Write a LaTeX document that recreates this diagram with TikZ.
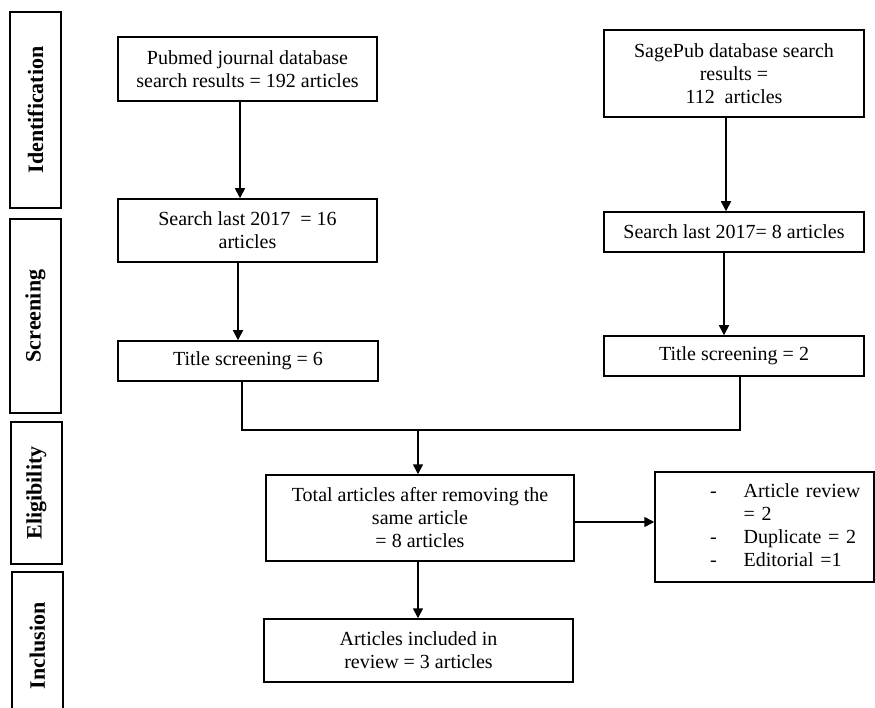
\documentclass[tikz,border=0pt]{standalone}
\usepackage{fontspec}
\setmainfont{Liberation Serif}
\usetikzlibrary{arrows.meta}
\begin{document}
\begin{tikzpicture}[x=1pt,y=-1pt,
  box/.style={draw, line width=1.5pt, inner sep=0pt, align=center, font=\fontsize{20}{23}\selectfont},
  stage/.style={draw, line width=1.6pt, inner sep=0pt, rotate=90, font=\bfseries\fontsize{22}{24}\selectfont},
  conn/.style={line width=1.5pt},
  arr/.style={conn, -{Triangle[length=10pt,width=10pt]}}]
\useasboundingbox (0,0) rectangle (875,708);
\clip (0,0) rectangle (875,708);
% stage labels
\node[stage, minimum width=196pt, minimum height=51pt] (id) at (35.5,110) {Identification};
\node[stage, minimum width=194pt, minimum height=51pt] (sc) at (35.5,316) {Screening};
\node[stage, minimum width=142pt, minimum height=51pt] (el) at (36.5,493) {Eligibility};
\node[stage, minimum width=148pt, minimum height=51pt] (in) at (37.5,646) {Inclusion};
% left column
\node[box, minimum width=259pt, minimum height=64pt] (pub) at (247.5,69) {Pubmed journal database\\search results = 192 articles};
\node[box, minimum width=259pt, minimum height=63pt] (s16) at (247.5,230.5) {Search last 2017\ \ = 16\\articles};
\node[box, minimum width=260pt, minimum height=40pt] (t6) at (248,361) {Title screening = 6};
% right column
\node[box, minimum width=260pt, minimum height=87pt] (sage) at (734,73.5) {SagePub database search\\results =\\112\ \ articles};
\node[box, minimum width=260pt, minimum height=40pt] (s8) at (734,232) {Search last 2017= 8 articles};
\node[box, minimum width=260pt, minimum height=40pt] (t2) at (734,356) {Title screening = 2};
% bottom
\node[box, minimum width=308pt, minimum height=86pt] (tot) at (420,518) {Total articles after removing the\\same article\\= 8 articles};
\node[box, minimum width=219pt, minimum height=110pt, text width=219pt, align=left] (excl) at (764.5,527)
  {\begin{tabular}{@{\hspace{55pt}}l@{\hspace{27pt}}l@{}}-&Article review\\&= 2\\-&Duplicate = 2\\-&Editorial =1\end{tabular}};
\node[box, minimum width=309pt, minimum height=63pt] (inc) at (418.5,650.5) {Articles included in\\review = 3 articles};
% helper coordinates
\coordinate (xa) at (240,0);
\coordinate (xb) at (238,0);
\coordinate (xc) at (242,0);
\coordinate (xd) at (726,0);
\coordinate (xe) at (724,0);
\coordinate (xf) at (740,0);
\coordinate (j) at (418,430);
% connectors
\draw[arr] (pub.south -| xa) -- (s16.north -| xa);
\draw[arr] (s16.south -| xb) -- (t6.north -| xb);
\draw[arr] (sage.south -| xd) -- (s8.north -| xd);
\draw[arr] (s8.south -| xe) -- (t2.north -| xe);
\draw[conn] (t6.south -| xc) |- (j) -| (t2.south -| xf);
\draw[arr] (j) -- (j |- tot.north);
\draw[arr] ([yshift=-4pt]tot.east) -- ([yshift=-4pt]tot.east -| excl.west);
\draw[arr] (j |- tot.south) -- (j |- inc.north);
\end{tikzpicture}
\end{document}
